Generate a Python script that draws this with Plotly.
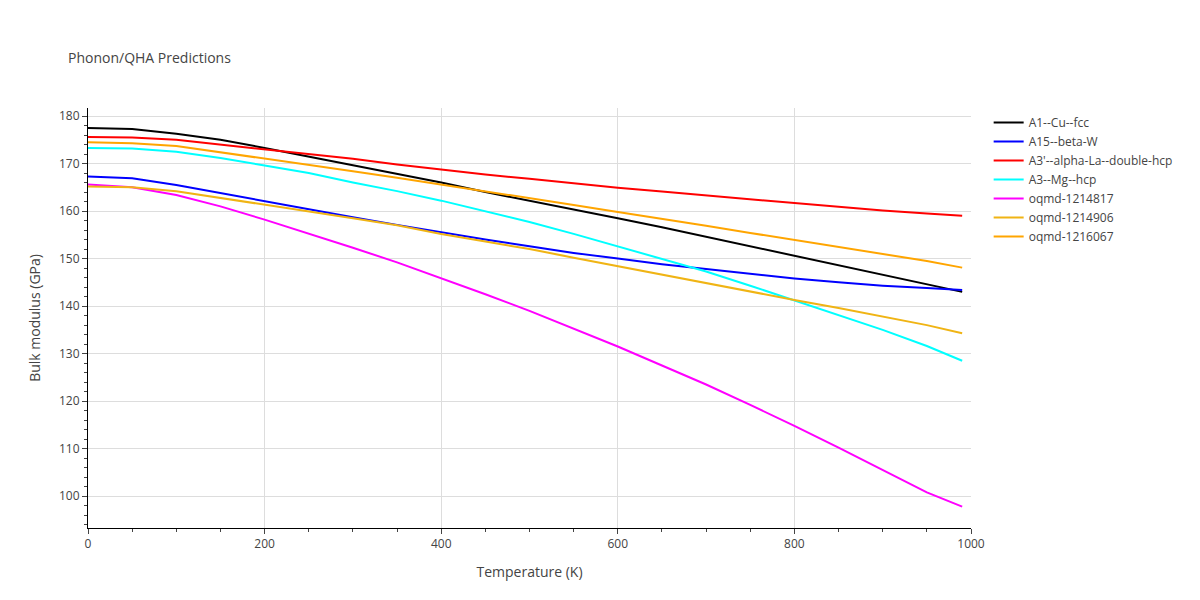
import plotly.graph_objects as go

temperature = [0, 50, 100, 150, 200, 250, 300, 350, 400, 450, 500, 550, 600, 650,
               700, 750, 800, 850, 900, 950, 990]

a1_cu_fcc = [177.5, 177.3, 176.3, 175, 173.3, 171.5, 169.7, 167.9, 166, 164, 162.2,
             160.4, 158.5, 156.6, 154.6, 152.6, 150.6, 148.6, 146.6, 144.6, 143]
a15_beta_w = [167.3, 166.9, 165.5, 163.8, 162, 160.3, 158.7, 157.1, 155.5, 154, 152.6,
              151.2, 150, 148.8, 147.8, 146.8, 145.8, 145, 144.3, 143.8, 143.4]
a3p_alpha_la = [175.6, 175.5, 175, 174, 173, 172, 171, 169.8, 168.7, 167.7, 166.8,
                165.8, 164.9, 164.1, 163.3, 162.4, 161.6, 160.8, 160.1, 159.5, 159]
a3_mg_hcp = [173.3, 173.2, 172.5, 171.2, 169.6, 168, 166, 164.2, 162.2, 160, 157.7,
             155.2, 152.6, 150, 147.3, 144.3, 141.2, 138.2, 135, 131.6, 128.5]
oqmd_1214817 = [165.6, 165, 163.4, 161, 158.2, 155.3, 152.3, 149.2, 145.9, 142.5, 139,
                135.3, 131.5, 127.5, 123.5, 119.2, 114.8, 110.2, 105.5, 100.8, 97.8]
oqmd_1214906 = [165.2, 165, 164.2, 162.8, 161.4, 159.9, 158.5, 157, 155.2, 153.6, 152,
                150.2, 148.4, 146.6, 144.8, 143, 141.3, 139.6, 137.8, 136, 134.3]
oqmd_1216067 = [174.5, 174.3, 173.7, 172.4, 171.1, 169.8, 168.4, 167, 165.6, 164.2, 162.8,
                161.3, 159.8, 158.4, 156.9, 155.4, 153.9, 152.5, 151, 149.5, 148.1]

series = [
    ("A1--Cu--fcc", a1_cu_fcc, "black"),
    ("A15--beta-W", a15_beta_w, "blue"),
    ("A3'--alpha-La--double-hcp", a3p_alpha_la, "red"),
    ("A3--Mg--hcp", a3_mg_hcp, "cyan"),
    ("oqmd-1214817", oqmd_1214817, "magenta"),
    ("oqmd-1214906", oqmd_1214906, "#f0b414"),
    ("oqmd-1216067", oqmd_1216067, "orange"),
]

fig = go.Figure()
for name, vals, color in series:
    fig.add_trace(go.Scatter(x=temperature, y=vals, mode="lines", name=name,
                             line=dict(color=color, width=2)))

fig.update_layout(
    title=dict(text="Phonon/QHA Predictions", x=0.05, y=0.925, font=dict(size=14)),
    width=1200, height=600,
    margin=dict(l=80, r=237, t=100, b=80),
    plot_bgcolor="white", paper_bgcolor="white",
    font=dict(family="Open Sans, sans-serif", color="#444"),
    legend=dict(x=1.02, y=1, font=dict(size=12)),
)
axis_style = dict(showline=True, linecolor="black", ticks="outside", gridcolor="#ddd",
                  zeroline=False, mirror=False)
fig.update_xaxes(title_text="Temperature (K)", range=[0, 1000], dtick=200,
                 minor=dict(dtick=50, ticks="outside", ticklen=3, showgrid=False),
                 **axis_style)
fig.update_yaxes(title_text="Bulk modulus (GPa)", range=[93.3, 181.7], dtick=10,
                 minor=dict(dtick=2, ticks="outside", ticklen=3, showgrid=False),
                 **axis_style)

fig.write_html("out.html")
